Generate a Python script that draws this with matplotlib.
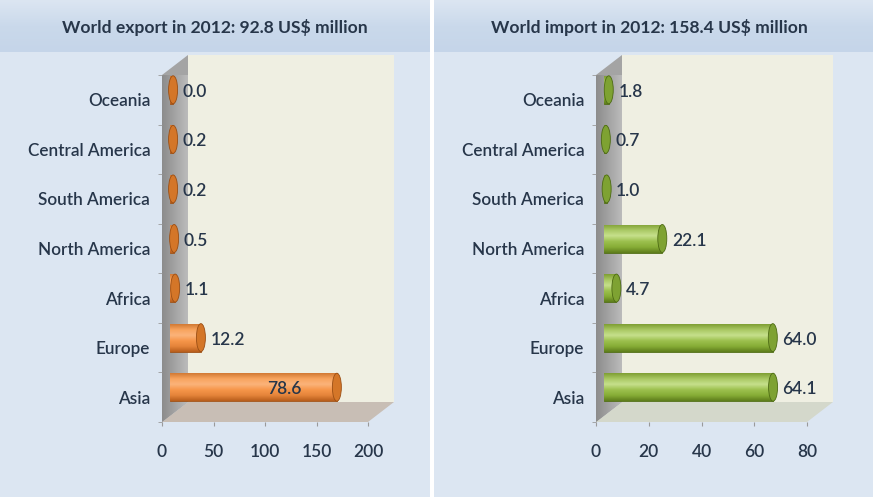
import matplotlib
matplotlib.use('Agg')
import matplotlib.pyplot as plt
import matplotlib.transforms as mtransforms
from matplotlib.patches import Polygon, Rectangle, Ellipse
from matplotlib.colors import LinearSegmentedColormap
import numpy as np

plt.rcParams['font.family'] = ['Lato', 'DejaVu Sans']

# categories, bottom to top
regions = ['Asia', 'Europe', 'Africa', 'North America', 'South America',
           'Central America', 'Oceania']

# export panel: printed labels, and bar lengths as read against the axis
export_labels = ['78.6', '12.2', '1.1', '0.5', '0.2', '0.2', '0.0']
export_bars = [162, 30, 5, 4, 3, 3, 3]
export_ticks = [0, 50, 100, 150, 200]

# import panel
import_labels = ['64.1', '64.0', '4.7', '22.1', '1.0', '0.7', '1.8']
import_bars = [64.1, 64.0, 4.7, 22.1, 1.0, 0.7, 1.8]
import_ticks = [0, 20, 40, 60, 80]

TXT = '#27364a'
W, H = 873, 497
fig = plt.figure(figsize=(W / 100, H / 100), dpi=100)
fig.patch.set_facecolor('white')

# background layer in pixel units
bg = fig.add_axes([0, 0, 1, 1])
bg.axis('off')
hdr = np.linspace(0, 1, 60).reshape(-1, 1)
hdr_cmap = LinearSegmentedColormap.from_list('hdr', ['#dce6f2', '#cad9eb', '#c5d5e9'])
for px0, px1 in [(0, 430), (434, 873)]:
    bg.add_patch(Rectangle((px0, 0), px1 - px0, H, facecolor='#dce6f2', edgecolor='none'))
    bg.imshow(hdr, extent=(px0, px1, 52, 0), cmap=hdr_cmap, aspect='auto', zorder=1)
bg.set_xlim(0, W)
bg.set_ylim(H, 0)


def draw_panel(x0, x1, title, title_x, bars, labels, ticks, cols, cap_col, edge_col,
               floor_col, inside_from=None):
    top, bottom = 75, 422
    ax = fig.add_axes([x0 / W, 1 - bottom / H, (x1 - x0) / W, (bottom - top) / H])
    ax.patch.set_visible(False)
    wpx, hpx = x1 - x0, bottom - top
    dx, dy = 26 / wpx, 20 / hpx

    # back wall, side wall, floor
    ax.add_patch(Rectangle((dx, dy), 1, 1, transform=ax.transAxes, facecolor='#efefe2',
                           edgecolor='none', clip_on=False, zorder=0))
    wall = Polygon([(0, 0), (0, 1), (dx, 1 + dy), (dx, dy)], closed=True,
                   transform=ax.transAxes, facecolor='#a4a4a4', edgecolor='none',
                   clip_on=False, zorder=1)
    ax.add_patch(wall)
    wg = ax.imshow(np.linspace(0, 1, 40).reshape(1, -1), extent=(0, dx, 0, 1 + dy),
                   transform=ax.transAxes,
                   cmap=LinearSegmentedColormap.from_list('w', ['#8c8c8c', '#bbbbbb']),
                   aspect='auto', zorder=1.1)
    wg.set_clip_path(wall)
    wg.set_clip_box(None)
    ax.add_patch(Polygon([(0, 0), (1, 0), (1 + dx, dy), (dx, dy)], closed=True,
                         transform=ax.transAxes, facecolor=floor_col, edgecolor='none',
                         clip_on=False, zorder=1))

    # cylinders, drawn half-way into the depth
    bt = mtransforms.offset_copy(ax.transData, fig=fig, x=8, y=10, units='dots')
    ys = np.arange(len(regions))
    h = 28 / (hpx / len(regions))
    span = ticks[-1] - ticks[0]
    cap_px = 9
    cap_w = cap_px * span / wpx
    shade = np.linspace(0, 1, 80).reshape(-1, 1)
    cmap = LinearSegmentedColormap.from_list('c', cols)
    for y, L, lab in zip(ys, bars, labels):
        b = ax.barh(y, L, height=h, color=cols[2], edgecolor=edge_col, linewidth=0.6,
                    transform=bt, zorder=3, clip_on=False)[0]
        im = ax.imshow(shade, extent=(0, L, y - h / 2, y + h / 2), origin='lower',
                       transform=bt, cmap=cmap, aspect='auto', zorder=3.1,
                       interpolation='bilinear')
        im.set_clip_path(b)
        ax.add_patch(Ellipse((L, y), cap_w, h, transform=bt, facecolor=cap_col,
                             edgecolor=edge_col, linewidth=0.6, zorder=3.2, clip_on=False))
        if inside_from is not None and L >= inside_from:
            tt = mtransforms.offset_copy(bt, fig=fig, x=-35, y=-2, units='dots')
            ax.text(L, y, lab, transform=tt, ha='right', va='center', fontsize=12.5,
                    fontweight='semibold', color=TXT, zorder=4)
        else:
            tt = mtransforms.offset_copy(bt, fig=fig, x=cap_px / 2 + 5, y=-2, units='dots')
            ax.text(L, y, lab, transform=tt, ha='left', va='center', fontsize=12.5,
                    fontweight='semibold', color=TXT, zorder=4)

    ax.set_xlim(ticks[0], ticks[-1])
    ax.set_ylim(-0.5, len(regions) - 0.5)
    ax.set_yticks(ys)
    ax.set_yticklabels(regions, fontsize=12.3, fontweight='semibold', color=TXT)
    ax.set_yticks(np.arange(-0.5, len(regions), 1), minor=True)
    ax.tick_params(axis='y', which='major', length=0, pad=8.5)
    ax.tick_params(axis='y', which='minor', length=3, color='#9a9a9a')
    ax.set_xticks(ticks)
    ax.set_xticklabels([str(t) for t in ticks], fontsize=12.5, fontweight='semibold',
                       color=TXT)
    ax.tick_params(axis='x', length=3, color='#9a9a9a', pad=13)
    for s in ax.spines.values():
        s.set_visible(False)

    fig.text(title_x / W, 1 - 27 / H, title, ha='center', va='center', fontsize=12.6,
             fontweight='bold', color=TXT)
    return ax


orange = ['#b85e1c', '#e5843a', '#f6964a', '#fbb37a', '#f8a45e', '#d27a34']
green = ['#5e7d1c', '#87ad36', '#9cc04e', '#c6e08c', '#a9c863', '#7f9f34']

draw_panel(162, 368, 'World export in 2012: 92.8 US$ million', 215,
           export_bars, export_labels, export_ticks, orange, '#d47628', '#9a4e14',
           '#c8beb5', inside_from=100)
draw_panel(596, 807, 'World import in 2012: 158.4 US$ million', 649,
           import_bars, import_labels, import_ticks, green, '#7ea232', '#4d6a14',
           '#d4d8cb')

fig.savefig('out.png', dpi=100)
